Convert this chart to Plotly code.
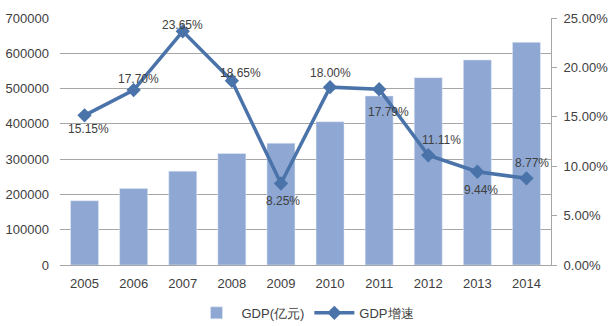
import plotly.graph_objects as go

years = [2005, 2006, 2007, 2008, 2009, 2010, 2011, 2012, 2013, 2014]
gdp = [182000, 217000, 266000, 316000, 345000, 406000, 479000, 531000, 581000, 631000]
growth = [0.1515, 0.1770, 0.2365, 0.1865, 0.0825, 0.1800, 0.1779, 0.1111, 0.0944, 0.0877]
growth_labels = ["15.15%", "17.70%", "23.65%", "18.65%", "8.25%", "18.00%", "17.79%", "11.11%", "9.44%", "8.77%"]

label_dx = [4, 5, 0, 9, 2, 0, 9, 13, 4, 6]
label_dy = [-14, 11, 6, 8, -18, 14, -23, 15, -18, 15]

bar_color = "#8ea7d3"
line_color = "#4a73aa"
text_color = "#404040"
grid_color = "#a6a6a6"

fig = go.Figure()
fig.add_trace(go.Bar(x=years, y=gdp, name="GDP(亿元)", marker_color=bar_color,
                     width=0.57, yaxis="y"))
fig.add_trace(go.Scatter(x=years, y=growth, name="GDP增速", yaxis="y2",
                         mode="lines+markers",
                         line=dict(color=line_color, width=3.5),
                         marker=dict(symbol="diamond", size=11, color=line_color)))

annotations = []
for x, y, t, dx, dy in zip(years, growth, growth_labels, label_dx, label_dy):
    annotations.append(dict(x=x, y=y, xref="x", yref="y2", text=t, showarrow=False,
                            xshift=dx, yshift=dy,
                            font=dict(size=12, color=text_color, family="Arial")))

fig.update_layout(
    width=609, height=326,
    margin=dict(l=60, r=58, t=18, b=61, autoexpand=False),
    paper_bgcolor="white", plot_bgcolor="white",
    font=dict(family="Arial", size=13, color=text_color),
    showlegend=True,
    legend=dict(orientation="h", x=0.5, xanchor="center", y=-0.194, yanchor="middle",
                font=dict(size=13, color=text_color), itemwidth=40, traceorder="normal"),
    xaxis=dict(type="linear", range=[2004.5, 2014.5], tickmode="array", tickvals=years,
               ticktext=[str(y) for y in years],
               showline=True, linecolor=grid_color, linewidth=1,
               ticks="", showgrid=False, zeroline=False,
               tickfont=dict(size=13, color=text_color), ticklabelstandoff=6),
    yaxis=dict(range=[0, 700000], dtick=100000, showgrid=True, gridcolor=grid_color,
               gridwidth=1, showline=False, zeroline=False, tickformat="d",
               ticks="", tickfont=dict(size=13, color=text_color), ticklabelstandoff=10),
    yaxis2=dict(range=[0, 0.25], dtick=0.05, overlaying="y", side="right",
                showgrid=False, zeroline=False, showline=True, linecolor=grid_color,
                linewidth=1, ticks="outside", ticklen=5, tickcolor=grid_color,
                tickformat=".2%", tickfont=dict(size=13, color=text_color),
                ticklabelstandoff=4),
    annotations=annotations,
)

fig.write_html("out.html")
